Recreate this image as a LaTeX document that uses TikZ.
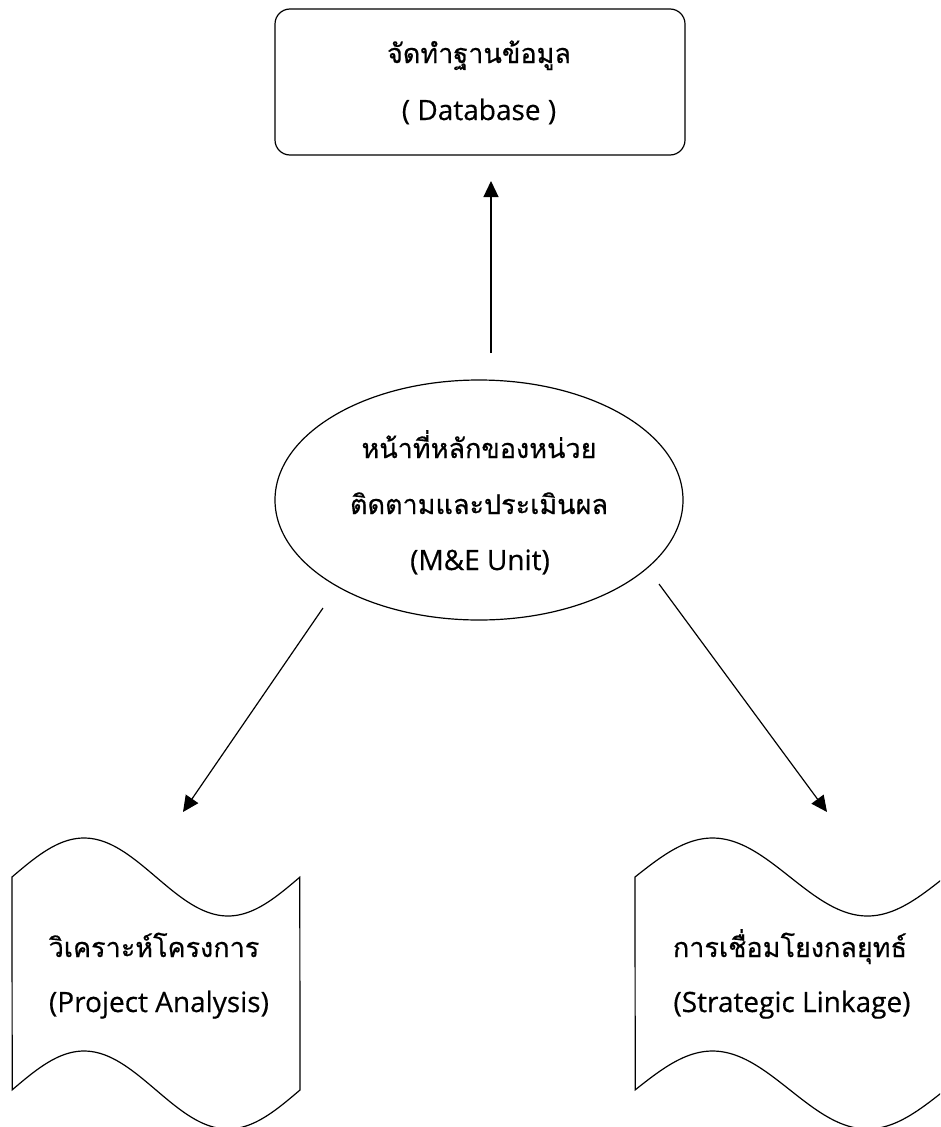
\documentclass[tikz,border=0pt]{standalone}
\usepackage{fontspec}
\newfontfamily\thai[Script=Thai,FakeBold=0.5]{Loma}
\newfontfamily\latn[FakeBold=0.4]{Open Sans}
\usetikzlibrary{arrows.meta,shapes.geometric}
\begin{document}
\begin{tikzpicture}[x=1pt,y=-1pt,line width=1.2pt,
  txt/.style={font=\thai\fontsize{27}{34}\selectfont,inner sep=0pt,anchor=base},
  ltxt/.style={font=\latn\fontsize{28}{34}\selectfont,inner sep=0pt,anchor=base},
  arr/.style={-{Triangle[length=16pt,width=15pt]}},
  shapebox/.style={draw,inner sep=0pt}]
\clip (0,0) rectangle (940,1127);
\fill[white] (0,0) rectangle (940,1127);
% database box
\node[shapebox,rounded corners=15pt,minimum width=410pt,minimum height=146pt] (db) at (480,82) {};
\node[txt] (db1) at (479,63) {จัดทำฐานข้อมูล};
\node[ltxt] (db2) at (479,120) {( Database )};
% ellipse
\node[shapebox,ellipse,minimum width=408pt,minimum height=240pt] (me) at (479,500) {};
\node[txt] (me1) at (479,458) {หน้าที่หลักของหน่วย};
\node[txt] (me2) at (479,514) {ติดตามและประเมินผล};
\node[ltxt] (me3) at (480,570) {(M\&E Unit)};
% left banner
\draw (12,877) -- plot[domain=0:1,samples=60,smooth] ({12+288*\x},{877-39*sin(360*\x)})
  -- (300,1090) -- plot[domain=1:0,samples=60,smooth] ({12+288*\x},{1090-39*sin(360*\x)}) -- cycle;
\node[txt] (pa1) at (154,957) {วิเคราะห์โครงการ};
\node[ltxt] (pa2) at (159,1012) {(Project Analysis)};
% right banner
\draw (635,877) -- plot[domain=0:1,samples=60,smooth] ({635+310*\x},{877-39*sin(360*\x)})
  -- (945,1090) -- plot[domain=1:0,samples=60,smooth] ({635+310*\x},{1090-39*sin(360*\x)}) -- cycle;
\node[txt] (sl1) at (790,957) {การเชื่อมโยงกลยุทธ์};
\node[ltxt] (sl2) at (792,1012) {(Strategic Linkage)};
% connectors
\coordinate (upS) at (491,353);
\coordinate (upE) at (491,181);
\coordinate (lS) at (323,608);
\coordinate (lE) at (183,812);
\coordinate (rS) at (659,584);
\coordinate (rE) at (827,812);
\draw[arr] (upS) -- (upE);
\draw[arr] (lS) -- (lE);
\draw[arr] (rS) -- (rE);
\end{tikzpicture}
\end{document}
